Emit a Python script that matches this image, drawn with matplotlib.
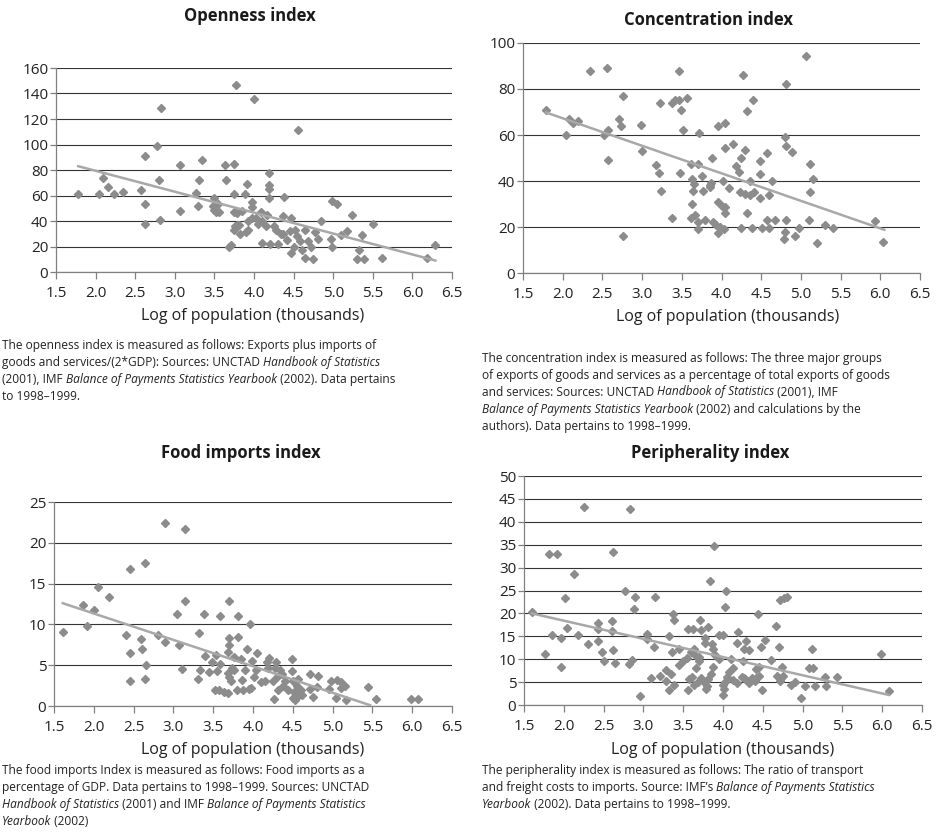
import matplotlib
matplotlib.use('Agg')
import matplotlib.pyplot as plt
import numpy as np

plt.rcParams['font.family'] = ['Open Sans', 'DejaVu Sans']

W, H = 949, 838

# ---- data ----
open_x = [1.78, 2.04, 2.09, 2.16, 2.23, 2.35, 2.57, 2.62, 2.63, 2.63, 2.77, 2.82, 2.80, 2.81, 3.06, 3.06,
          3.29, 3.27, 3.30, 3.34, 3.49, 3.48, 3.50, 3.52, 3.54, 3.56, 3.64, 3.65, 3.75, 3.77, 3.75, 3.75,
          3.79, 3.89, 3.91, 3.75, 3.76, 3.79, 3.81, 3.90, 3.68, 3.71, 4.00, 4.55, 4.19, 4.19, 4.19, 4.19,
          4.38, 3.98, 3.98, 4.09, 4.17, 4.36, 4.47, 3.97, 4.02, 4.10, 4.15, 4.28, 4.34, 4.37, 4.52, 4.54,
          4.65, 4.77, 4.85, 4.81, 4.98, 5.05, 4.97, 4.98, 5.10, 5.18, 5.24, 5.36, 5.32, 5.30, 5.39, 5.50,
          5.62, 6.18, 6.29, 4.10, 4.20, 4.30, 4.47, 4.60, 4.64, 4.74, 4.72, 3.85, 3.92, 3.93, 3.82, 4.05,
          4.25, 4.42, 4.50, 4.58, 4.68, 4.45]
open_y = [61, 61, 74, 67, 61, 63, 64, 53, 91, 38, 99, 129, 72, 41, 84, 48,
          52, 62, 72, 88, 58, 52, 49, 47, 53, 47, 84, 72, 85, 147, 61, 47,
          46, 61, 69, 33, 36, 37, 37, 31, 20, 21, 136, 111, 78, 68, 65, 58,
          59, 55, 51, 47, 45, 44, 42, 42, 42, 40, 36, 33, 30, 30, 33, 28,
          33, 31, 40, 26, 56, 53, 26, 20, 29, 32, 45, 29, 17, 10, 10, 38,
          11, 11, 21, 23, 22, 22, 15, 17, 11, 10, 20, 48, 40, 33, 30, 38,
          36, 25, 20, 24, 24, 32]
open_trend_x = [1.78, 6.29]
open_trend_y = [83, 9]

conc_x = [1.79, 2.04, 2.08, 2.13, 2.19, 2.34, 2.56, 2.52, 2.57, 2.57, 2.71, 2.74, 2.76, 2.76, 2.99, 3.00,
          3.17, 3.21, 3.24, 3.23, 3.38, 3.38, 3.42, 3.46, 3.47, 3.49, 3.48, 3.52, 3.57, 3.61, 3.63, 3.65,
          3.63, 3.64, 3.61, 3.66, 3.71, 3.71, 3.72, 3.71, 3.75, 3.77, 3.79, 3.85, 3.86, 3.88, 3.89, 3.96,
          3.96, 3.96, 4.02, 3.93, 3.98, 4.00, 4.04, 4.05, 4.14, 3.87, 4.10, 4.05, 4.05, 4.03, 4.18, 4.22,
          4.24, 4.29, 4.27, 4.32, 4.40, 4.23, 4.30, 4.36, 4.41, 4.36, 4.32, 4.24, 4.38, 4.48, 4.49, 4.57,
          4.48, 4.60, 4.64, 4.57, 4.67, 4.60, 4.51, 4.81, 4.80, 4.81, 4.89, 4.81, 4.80, 4.79, 4.92, 4.98,
          5.06, 5.11, 5.15, 5.11, 5.10, 5.20, 5.30, 5.40, 5.93, 6.03]
conc_y = [71, 60, 67, 65, 66, 88, 89, 60, 62, 49, 67, 64, 77, 16, 64.5, 53,
          47, 43.5, 35.5, 74, 24, 74, 75, 88, 75, 71, 43.5, 62, 76, 47.5, 41, 38.6,
          30, 35.5, 24, 25, 22, 19, 61, 47.5, 42, 35.5, 23, 38.3, 37.4, 50, 22, 31,
          17.5, 64, 40, 21, 20, 29, 65, 54.5, 56, 39, 37, 28.5, 26, 19, 46.5, 44,
          50, 53.6, 86, 70.6, 75.3, 35, 34.5, 34, 35, 40, 26, 19.5, 19.5, 48.5, 43, 52,
          32.6, 34, 40, 23, 23, 19.5, 19.5, 82, 59, 55, 52.6, 23, 18, 14.8, 16, 19.7,
          94.5, 47.5, 41, 35, 23, 13, 21, 19.7, 22.4, 13.5]
conc_trend_x = [1.79, 6.05]
conc_trend_y = [69.8, 18.8]

food_x = [1.61, 1.87, 1.92, 2.00, 2.05, 2.19, 2.40, 2.45, 2.46, 2.59, 2.60, 2.64, 2.81, 2.89, 2.90, 3.07,
          3.05, 3.14, 3.15, 3.32, 3.39, 3.40, 3.53, 3.59, 3.70, 3.70, 3.70, 3.68, 3.81, 3.81, 3.92, 3.96,
          3.76, 2.45, 2.66, 2.64, 3.11, 3.31, 3.33, 3.45, 3.49, 3.52, 3.57, 3.63, 3.69, 3.55, 3.59, 3.68,
          3.70, 3.72, 3.73, 3.76, 3.85, 3.80, 3.88, 3.95, 3.86, 3.90, 3.99, 3.97, 4.01, 4.04, 4.17, 4.15,
          4.25, 4.31, 4.19, 4.29, 4.28, 4.34, 4.37, 4.38, 4.40, 4.44, 4.27, 4.49, 4.49, 4.50, 4.52, 4.55,
          4.57, 4.50, 4.53, 4.57, 4.62, 4.60, 4.71, 4.72, 4.76, 4.80, 4.82, 4.96, 4.98, 5.04, 5.05, 5.10,
          5.11, 5.16, 5.17, 5.44, 5.55, 5.99, 6.07, 4.10, 4.05, 4.20, 4.30]
food_y = [9.05, 12.4, 9.8, 11.8, 14.6, 13.4, 8.7, 6.5, 16.8, 8.2, 7.0, 17.5, 8.7, 22.4, 7.9, 7.5,
          11.3, 21.7, 12.9, 9.0, 11.3, 6.1, 6.3, 11.0, 12.9, 8.3, 7.5, 6.6, 11.0, 8.4, 7.0, 10.0,
          6.0, 3.1, 5.0, 3.3, 4.5, 3.3, 4.4, 4.2, 5.4, 2.0, 2.0, 1.7, 1.6, 4.3, 5.2, 4.0,
          3.6, 3.1, 4.6, 4.4, 5.8, 2.0, 2.0, 2.1, 3.2, 4.4, 5.5, 2.2, 3.6, 4.4, 5.4, 3.1,
          3.1, 2.0, 4.7, 5.4, 4.6, 4.4, 3.9, 2.4, 3.1, 2.0, 0.9, 4.3, 5.7, 3.1, 1.7, 2.4,
          3.3, 0.95, 0.7, 1.2, 1.3, 2.0, 2.1, 3.9, 1.1, 2.3, 3.7, 2.1, 3.1, 1.0, 3.2, 2.2,
          2.9, 2.4, 0.7, 2.3, 0.8, 0.9, 0.8, 3.0, 6.5, 5.9, 3.5]
food_trend_x = [1.61, 5.47]
food_trend_y = [12.6, 0.1]

peri_x = [1.60, 1.77, 1.82, 1.91, 1.85, 1.96, 2.01, 2.04, 2.13, 2.18, 2.25, 2.31, 2.43, 2.43, 2.43, 2.48,
          2.62, 2.61, 2.61, 2.62, 2.77, 2.83, 2.90, 2.88, 3.04, 3.05, 3.14, 3.13, 3.32, 3.37, 3.38, 3.36,
          3.45, 3.56, 3.62, 3.60, 3.64, 3.66, 3.71, 3.72, 3.77, 3.78, 3.81, 3.84, 3.89, 3.86, 3.87, 3.95,
          4.00, 4.02, 4.04, 4.44, 4.72, 4.77, 4.80, 4.67, 4.19, 4.53, 4.48, 4.29, 4.18, 4.26, 4.33, 4.70,
          5.12, 5.98, 1.96, 2.50, 2.64, 2.82, 2.86, 2.96, 3.09, 3.21, 3.29, 3.29, 3.32, 3.35, 3.38, 3.45,
          3.50, 3.55, 3.57, 3.61, 3.56, 3.63, 3.68, 3.72, 3.66, 3.70, 3.76, 3.79, 3.80, 3.81, 3.85, 3.88,
          4.00, 4.00, 4.01, 4.02, 4.05, 4.08, 4.13, 4.17, 4.12, 4.24, 4.26, 4.28, 4.33, 4.36, 4.40, 4.42,
          4.45, 4.49, 4.41, 4.45, 4.68, 4.71, 4.73, 4.76, 4.74, 4.86, 4.90, 4.98, 5.03, 5.16, 5.08, 5.13,
          5.28, 5.30, 5.43, 6.08, 3.95, 4.10, 4.25, 4.60, 3.70, 3.90]
peri_y = [20.2, 11.2, 33, 33, 15.3, 14.7, 23.3, 16.9, 28.7, 15.3, 43.3, 13.3, 17.8, 16.6, 14, 11.5,
          33.5, 18.4, 16.2, 12, 24.9, 42.8, 23.5, 20.9, 15.4, 14.5, 23.5, 12.7, 15.1, 19.8, 18.6, 11.5,
          12.2, 16.7, 16.7, 11.5, 12.2, 10.7, 18.5, 16.3, 14.6, 13.5, 17.1, 27.1, 34.8, 13.4, 12.3, 15.2,
          15.2, 21.4, 24.9, 19.8, 22.9, 23.3, 23.6, 17.3, 15.9, 14.2, 12.6, 14, 13.5, 12.2, 12.1, 12.6,
          12.2, 11.1, 8.3, 9.6, 9.2, 8.9, 9.8, 2.0, 6.0, 6.3, 7.7, 5.2, 3.3, 6.8, 4.3, 8.7,
          9.5, 10.2, 5.6, 6.2, 3.3, 4.3, 5.0, 5.8, 8.0, 9.7, 5.1, 3.5, 4.2, 5.7, 6.7, 8.4,
          4.4, 2.2, 3.6, 5.0, 6.1, 7.2, 5.4, 4.7, 8.0, 6.2, 6.0, 5.7, 4.7, 5.9, 5.2, 6.0,
          6.4, 3.3, 7.8, 8.4, 6.4, 5.2, 5.8, 6.4, 8.4, 4.3, 5.0, 1.5, 4.1, 4.1, 8.0, 8.0,
          6.2, 4.1, 6.2, 3.1, 10, 10, 9.5, 9.8, 10.5, 11]
peri_trend_x = [1.60, 6.08]
peri_trend_y = [20.0, 2.2]

x_ticks = [1.5, 2.0, 2.5, 3.0, 3.5, 4.0, 4.5, 5.0, 5.5, 6.0, 6.5]
titles = ['Openness index', 'Concentration index', 'Food imports index', 'Peripherality index']
xlabel = 'Log of population (thousands)'

# |...| marks an italic run
captions = [
    ["The openness index is measured as follows: Exports plus imports of",
     "goods and services/(2*GDP): Sources: UNCTAD |Handbook of Statistics|",
     "(2001), IMF |Balance of Payments Statistics Yearbook| (2002). Data pertains",
     "to 1998\u20131999."],
    ["The concentration index is measured as follows: The three major groups",
     "of exports of goods and services as a percentage of total exports of goods",
     "and services: Sources: UNCTAD |Handbook of Statistics| (2001), IMF",
     "|Balance of Payments Statistics Yearbook| (2002) and calculations by the",
     "authors). Data pertains to 1998\u20131999."],
    ["The food imports Index is measured as follows: Food imports as a",
     "percentage of GDP. Data pertains to 1998\u20131999. Sources: UNCTAD",
     "|Handbook of Statistics| (2001) and IMF |Balance of Payments Statistics|",
     "|Yearbook| (2002)"],
    ["The peripherality index is measured as follows: The ratio of transport",
     "and freight costs to imports. Source: IMF\u2019s |Balance of Payments Statistics|",
     "|Yearbook| (2002). Data pertains to 1998\u20131999."],
]

# ---- layout (pixels) ----
panels = [
    dict(box=(56, 68, 452, 272), x=open_x, y=open_y, tx=open_trend_x, ty=open_trend_y,
         ylim=160, ystep=20, title=(250, 16), xl=(253, 316), cap=(2, 345)),
    dict(box=(523, 43, 920, 273), x=conc_x, y=conc_y, tx=conc_trend_x, ty=conc_trend_y,
         ylim=100, ystep=20, title=(709, 20), xl=(728, 317), cap=(482, 358)),
    dict(box=(54, 502, 452, 706), x=food_x, y=food_y, tx=food_trend_x, ty=food_trend_y,
         ylim=25, ystep=5, title=(241, 453), xl=(253, 750), cap=(2, 770)),
    dict(box=(524, 476, 922, 705), x=peri_x, y=peri_y, tx=peri_trend_x, ty=peri_trend_y,
         ylim=50, ystep=5, title=(710, 453), xl=(723, 750), cap=(482, 770)),
]

fig = plt.figure(figsize=(W / 100, H / 100), dpi=100)


def fx(px):
    return px / W


def fy(py):
    return 1 - py / H


for i, p in enumerate(panels):
    x0, y0, x1, y1 = p['box']
    ax = fig.add_axes([fx(x0), fy(y1), (x1 - x0) / W, (y1 - y0) / H])
    ax.plot(p['x'], p['y'], linestyle='none', marker='D', ms=3.9, color='#8c8c8c', zorder=3)
    ax.plot(p['tx'], p['ty'], color='#a8a8a8', lw=1.8, zorder=4)
    ax.set_xlim(1.5, 6.5)
    ax.set_ylim(0, p['ylim'])
    ax.set_xticks(x_ticks)
    ax.set_xticklabels(['%.1f' % v for v in x_ticks])
    ax.set_yticks(np.arange(0, p['ylim'] + 0.1, p['ystep']))
    ax.yaxis.grid(True, color='#333333', lw=0.8)
    ax.set_axisbelow(True)
    for s in ['top', 'right']:
        ax.spines[s].set_visible(False)
    for s in ['left', 'bottom']:
        ax.spines[s].set_color('#808080')
        ax.spines[s].set_linewidth(0.9)
    ax.tick_params(axis='x', direction='out', length=5, width=0.9, color='#808080',
                   labelsize=11, pad=5, labelcolor='#222222')
    ax.tick_params(axis='y', direction='out', length=4, width=0.9, color='#808080',
                   labelsize=11, pad=1.5, labelcolor='#222222')
    fig.text(fx(p['title'][0]), fy(p['title'][1]), titles[i], ha='center', va='center',
             fontsize=12, fontweight='bold', color='#1a1a1a')
    fig.text(fx(p['xl'][0]), fy(p['xl'][1]), xlabel, ha='center', va='center',
             fontsize=11.5, color='#222222')

# captions with italic runs
renderer = fig.canvas.get_renderer()
for i, p in enumerate(panels):
    cx, cy = p['cap']
    for j, line in enumerate(captions[i]):
        x = fx(cx)
        y = fy(cy + j * 17)
        for k, part in enumerate(line.split('|')):
            if part == '':
                continue
            t = fig.text(x, y, part, ha='left', va='center', fontsize=8.6, color='#222222',
                         style='italic' if k % 2 else 'normal')
            x += t.get_window_extent(renderer).width / W

fig.savefig('out.png', dpi=100)
